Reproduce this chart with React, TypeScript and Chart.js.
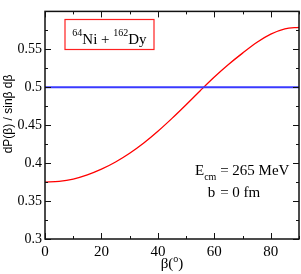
import React, { useEffect, useRef } from "react";
import { Chart, registerables } from "chart.js";

Chart.register(...registerables);

// Data
const betaDeg = [0, 5, 10, 15, 20, 25, 30, 35, 40, 45, 50, 55, 60, 65, 70, 75, 80, 85, 90];
const dPRatio = [0.375, 0.376, 0.379, 0.3845, 0.392, 0.4015, 0.413, 0.4265, 0.442, 0.459, 0.477, 0.4955, 0.5135, 0.53, 0.545, 0.559, 0.57, 0.577, 0.579];
const isoBeta = [0, 90];
const isoValue = [0.5, 0.5];

const xMajorTicks = [0, 20, 40, 60, 80];
const xMinorTicks = [10, 30, 50, 70, 90];
const yMajorTicks = [0.3, 0.35, 0.4, 0.45, 0.5, 0.55, 0.6];
const yMinorTicks = [0.325, 0.375, 0.425, 0.475, 0.525, 0.575];
const yTickLabels = ["0.3", "0.35", "0.4", "0.45", "0.5", "0.55", ""];
const xTickLabels = ["0", "20", "40", "60", "80"];

const SERIF = "'Liberation Serif', 'Times New Roman', serif";
const SANS = "'Liberation Sans', Arial, sans-serif";

const decorPlugin = {
  id: "decor",
  afterDatasetsDraw(chart: any) {
    const ctx = chart.ctx as CanvasRenderingContext2D;
    const { left, right, top, bottom } = chart.chartArea;
    const xs = chart.scales.x;
    const ys = chart.scales.y;
    ctx.save();
    // frame
    ctx.strokeStyle = "#111";
    ctx.lineWidth = 1.5;
    ctx.strokeRect(left, top, right - left, bottom - top);
    // inward ticks
    ctx.lineWidth = 1;
    ctx.beginPath();
    const xt = (vals: number[], len: number) => {
      vals.forEach((v) => {
        const px = Math.round(xs.getPixelForValue(v)) + 0.5;
        ctx.moveTo(px, bottom);
        ctx.lineTo(px, bottom - len);
        ctx.moveTo(px, top);
        ctx.lineTo(px, top + len);
      });
    };
    const yt = (vals: number[], len: number) => {
      vals.forEach((v) => {
        const py = Math.round(ys.getPixelForValue(v)) + 0.5;
        ctx.moveTo(left, py);
        ctx.lineTo(left + len, py);
        ctx.moveTo(right, py);
        ctx.lineTo(right - len, py);
      });
    };
    xt(xMajorTicks, 6);
    xt(xMinorTicks, 3);
    yt(yMajorTicks, 6);
    yt(yMinorTicks, 3);
    ctx.stroke();

    // y-axis title
    ctx.fillStyle = "#000";
    ctx.save();
    ctx.translate(9, 114);
    ctx.rotate(-Math.PI / 2);
    ctx.font = `12px ${SANS}`;
    ctx.textAlign = "center";
    ctx.textBaseline = "middle";
    ctx.fillText("dP(β) / sinβ dβ", 0, 0);
    ctx.restore();

    ctx.textAlign = "left";
    ctx.textBaseline = "alphabetic";

    // x-axis title: β(°)
    const big = `15px ${SERIF}`;
    const small = `10px ${SERIF}`;
    const parts: [string, string, number][] = [
      ["β(", big, 0],
      ["o", small, -6],
      [")", big, 0],
    ];
    let total = 0;
    parts.forEach(([t, f]) => {
      ctx.font = f;
      total += ctx.measureText(t).width;
    });
    let x = (left + right) / 2 - total / 2;
    const baseX = 268;
    parts.forEach(([t, f, dy]) => {
      ctx.font = f;
      ctx.fillText(t, x, baseX + dy);
      x += ctx.measureText(t).width;
    });

    // reaction label box
    ctx.strokeStyle = "#ff2020";
    ctx.lineWidth = 1.2;
    ctx.strokeRect(65, 19.5, 89, 30);
    const rparts: [string, string, number][] = [
      ["64", small, -8],
      ["Ni + ", big, 0],
      ["162", small, -8],
      ["Dy", big, 0],
    ];
    x = 72.3;
    rparts.forEach(([t, f, dy]) => {
      ctx.font = f;
      ctx.fillText(t, x, 44 + dy);
      x += ctx.measureText(t).width;
    });

    // energy / impact parameter
    x = 195;
    ctx.font = big;
    ctx.fillText("E", x, 175);
    x += ctx.measureText("E").width;
    ctx.font = small;
    ctx.fillText("cm", x, 180);
    x += ctx.measureText("cm").width;
    ctx.font = big;
    x += ctx.measureText(" ").width;
    const eqX = x;
    ctx.fillText("= 265 MeV", x, 175);
    ctx.fillText("b", 207.7, 196.7);
    ctx.fillText("= 0 fm", eqX, 196.7);

    ctx.restore();
  },
};

export default function App() {
  const ref = useRef<HTMLCanvasElement | null>(null);
  useEffect(() => {
    document.body.style.margin = "0";
    if (!ref.current) return;
    const chart = new Chart(ref.current, {
      type: "line",
      data: {
        datasets: [
          {
            label: "isotropic",
            data: isoBeta.map((b, i) => ({ x: b, y: isoValue[i] })),
            borderColor: "#3a3aff",
            borderWidth: 2,
            pointRadius: 0,
            fill: false,
          },
          {
            label: "dP/sinβdβ",
            data: betaDeg.map((b, i) => ({ x: b, y: dPRatio[i] })),
            borderColor: "#ff0000",
            borderWidth: 1.3,
            pointRadius: 0,
            cubicInterpolationMode: "monotone",
            fill: false,
          },
        ],
      },
      options: {
        animation: false,
        responsive: false,
        devicePixelRatio: 1,
        layout: { padding: { top: 1.5, right: 2, left: 0, bottom: 0 } },
        plugins: {
          legend: { display: false },
          tooltip: { enabled: false },
        },
        scales: {
          x: {
            type: "linear",
            min: 0,
            max: 90,
            grid: { display: false, drawTicks: false },
            border: { display: false },
            afterBuildTicks: (scale: any) => {
              scale.ticks = xMajorTicks.map((v) => ({ value: v }));
            },
            afterFit: (scale: any) => {
              scale.height = 35;
            },
            ticks: {
              padding: 4,
              color: "#000",
              maxRotation: 0,
              autoSkip: false,
              font: { family: SERIF, size: 15 },
              callback: (_v: any, i: number) => xTickLabels[i],
            },
          },
          y: {
            type: "linear",
            min: 0.3,
            max: 0.6,
            grid: { display: false, drawTicks: false },
            border: { display: false },
            afterBuildTicks: (scale: any) => {
              scale.ticks = yMajorTicks.map((v) => ({ value: v }));
            },
            afterFit: (scale: any) => {
              scale.width = 45;
            },
            ticks: {
              padding: 3,
              color: "#000",
              autoSkip: false,
              font: { family: SERIF, size: 14 },
              callback: (_v: any, i: number) => yTickLabels[i],
            },
          },
        },
      },
      plugins: [decorPlugin],
    } as any);
    return () => chart.destroy();
  }, []);
  return (
    <div style={{ position: "fixed", left: 0, top: 0, width: 301, height: 274, background: "#fff" }}>
      <canvas ref={ref} width={301} height={274} style={{ width: 301, height: 274 }} />
    </div>
  );
}
